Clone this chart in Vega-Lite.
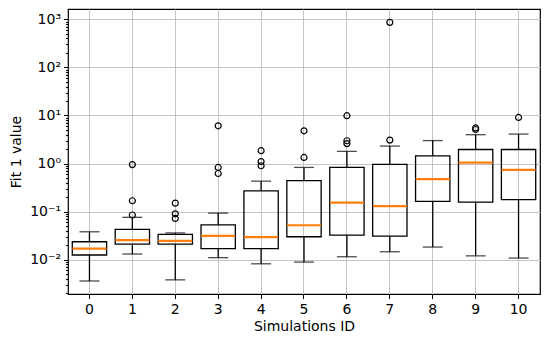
{
  "$schema": "https://vega.github.io/schema/vega-lite/v6.json",
  "width": 472,
  "height": 285,
  "autosize": {"type": "none"},
  "padding": {"left": 68, "top": 9, "right": 10, "bottom": 44},
  "background": "white",
  "config": {
    "font": "DejaVu Sans",
    "view": {"stroke": "black", "strokeWidth": 1.2},
    "axis": {
      "labelFont": "DejaVu Sans",
      "titleFont": "DejaVu Sans",
      "labelFontSize": 14,
      "titleFontSize": 14,
      "titleFontWeight": "normal",
      "labelColor": "black",
      "titleColor": "black",
      "tickColor": "black",
      "domain": false,
      "gridColor": "#c4c4c4",
      "gridWidth": 1,
      "gridOpacity": 1
    }
  },
  "datasets": {
    "boxes": [
      {"id": 0, "lo": 0.0036, "q1": 0.0125, "med": 0.017, "q3": 0.0236, "hi": 0.038},
      {"id": 1, "lo": 0.0131, "q1": 0.0211, "med": 0.0256, "q3": 0.0425, "hi": 0.076},
      {"id": 2, "lo": 0.0038, "q1": 0.0211, "med": 0.0247, "q3": 0.0335, "hi": 0.036},
      {"id": 3, "lo": 0.011, "q1": 0.0169, "med": 0.0314, "q3": 0.053, "hi": 0.093},
      {"id": 4, "lo": 0.0082, "q1": 0.0169, "med": 0.0295, "q3": 0.27, "hi": 0.43},
      {"id": 5, "lo": 0.0089, "q1": 0.030, "med": 0.052, "q3": 0.44, "hi": 0.83},
      {"id": 6, "lo": 0.0115, "q1": 0.0325, "med": 0.153, "q3": 0.83, "hi": 1.79},
      {"id": 7, "lo": 0.0146, "q1": 0.031, "med": 0.13, "q3": 0.96, "hi": 2.31},
      {"id": 8, "lo": 0.0183, "q1": 0.163, "med": 0.475, "q3": 1.45, "hi": 3.0},
      {"id": 9, "lo": 0.012, "q1": 0.158, "med": 1.04, "q3": 1.96, "hi": 3.98},
      {"id": 10, "lo": 0.0108, "q1": 0.177, "med": 0.74, "q3": 1.96, "hi": 4.1}
    ],
    "outliers": [
      {"id": 1, "value": 0.95}, {"id": 1, "value": 0.168}, {"id": 1, "value": 0.085},
      {"id": 2, "value": 0.15}, {"id": 2, "value": 0.09}, {"id": 2, "value": 0.072},
      {"id": 3, "value": 6.1}, {"id": 3, "value": 0.83}, {"id": 3, "value": 0.62},
      {"id": 4, "value": 1.85}, {"id": 4, "value": 1.1}, {"id": 4, "value": 0.9},
      {"id": 5, "value": 4.8}, {"id": 5, "value": 1.34},
      {"id": 6, "value": 9.9}, {"id": 6, "value": 2.98}, {"id": 6, "value": 2.6},
      {"id": 7, "value": 865}, {"id": 7, "value": 3.07},
      {"id": 9, "value": 5.5}, {"id": 9, "value": 5.1},
      {"id": 10, "value": 9.1}
    ]
  },
  "resolve": {"axis": {"y": "independent"}},
  "layer": [
    {
      "data": {"name": "boxes"},
      "encoding": {
        "x": {
          "field": "id", "type": "ordinal",
          "scale": {"paddingInner": 0.2, "paddingOuter": 0.1},
          "axis": {"title": "Simulations ID", "labelAngle": 0, "grid": true, "bandPosition": 0.5, "tickSize": 4.5, "labelPadding": 4, "titlePadding": 3}
        }
      },
      "layer": [
        {
          "mark": {"type": "rule", "color": "black", "strokeWidth": 1.3},
          "encoding": {
            "y": {
              "field": "lo", "type": "quantitative",
              "scale": {"type": "log", "domain": [0.00193, 1641], "nice": false},
              "axis": {
                "title": "Fit 1 value",
                "values": [0.01, 0.1, 1, 10, 100, 1000],
                "labelExpr": "datum.value >= 999 ? '10³' : datum.value >= 99 ? '10²' : datum.value >= 9 ? '10¹' : datum.value >= 0.9 ? '10⁰' : datum.value >= 0.09 ? '10⁻¹' : '10⁻²'",
                "tickSize": 4.5,
                "labelPadding": 3,
                "titlePadding": 6,
                "grid": true
              }
            },
            "y2": {"field": "q1"}
          }
        },
        {
          "mark": {"type": "rule", "color": "black", "strokeWidth": 1.3},
          "encoding": {
            "y": {"field": "q3", "type": "quantitative"},
            "y2": {"field": "hi"}
          }
        },
        {
          "mark": {"type": "tick", "color": "black", "size": 20, "thickness": 1.3},
          "encoding": {"y": {"field": "lo", "type": "quantitative"}}
        },
        {
          "mark": {"type": "tick", "color": "black", "size": 20, "thickness": 1.3},
          "encoding": {"y": {"field": "hi", "type": "quantitative"}}
        },
        {
          "mark": {"type": "bar", "fill": "white", "fillOpacity": 0, "stroke": "black", "strokeWidth": 1.3},
          "encoding": {
            "y": {"field": "q1", "type": "quantitative"},
            "y2": {"field": "q3"}
          }
        },
        {
          "mark": {"type": "tick", "color": "#ff7f0e", "size": 34, "thickness": 2.2, "opacity": 1},
          "encoding": {"y": {"field": "med", "type": "quantitative"}}
        }
      ]
    },
    {
      "data": {"name": "outliers"},
      "mark": {"type": "point", "shape": "circle", "filled": false, "stroke": "black", "strokeWidth": 1.2, "size": 36, "opacity": 1},
      "encoding": {
        "x": {"field": "id", "type": "ordinal"},
        "y": {
          "field": "value", "type": "quantitative",
          "axis": {
            "orient": "left",
            "title": null,
            "labels": false,
            "grid": false,
            "tickSize": 2.5,
            "values": [0.002, 0.003, 0.004, 0.005, 0.006, 0.007, 0.008, 0.009, 0.02, 0.03, 0.04, 0.05, 0.06, 0.07, 0.08, 0.09, 0.2, 0.3, 0.4, 0.5, 0.6, 0.7, 0.8, 0.9, 2, 3, 4, 5, 6, 7, 8, 9, 20, 30, 40, 50, 60, 70, 80, 90, 200, 300, 400, 500, 600, 700, 800, 900]
          }
        }
      }
    }
  ]
}
